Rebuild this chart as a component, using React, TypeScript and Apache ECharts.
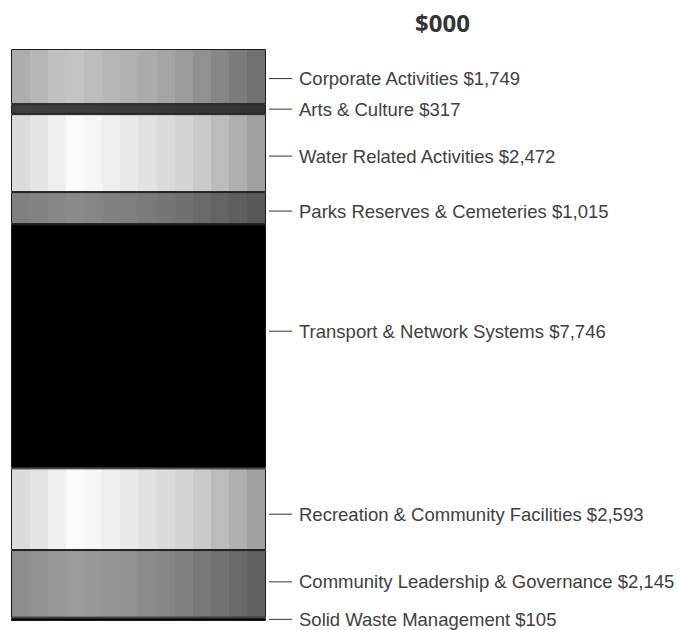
import React, { useEffect, useRef } from "react";
import * as echarts from "echarts";

const categories = [
  "Corporate Activities",
  "Arts & Culture",
  "Water Related Activities",
  "Parks Reserves & Cemeteries",
  "Transport & Network Systems",
  "Recreation & Community Facilities",
  "Community Leadership & Governance",
  "Solid Waste Management",
];
const values = [1749, 317, 2472, 1015, 7746, 2593, 2145, 105];
const titleText = "$000";

// ---- styles (not data) ----
const labelOffsetsY = [2, 0, 3, 3, -15, 5, -2, 0];
// gray anchors: [offset, gray level]
const shadeAnchors: number[][][] = [
  [[0, 0xa8], [0.22, 0xc6], [0.6, 0xa6], [1, 0x6c]],
  [[0, 0x40], [1, 0x34]],
  [[0, 0xd6], [0.26, 0xfb], [0.5, 0xe6], [0.72, 0xd0], [1, 0x9a]],
  [[0, 0x7e], [0.25, 0x8a], [0.6, 0x76], [1, 0x55]],
  [[0, 0x00], [1, 0x00]],
  [[0, 0xd6], [0.26, 0xfb], [0.5, 0xe6], [0.72, 0xd0], [1, 0x9a]],
  [[0, 0x8c], [0.25, 0x9c], [0.6, 0x88], [1, 0x5e]],
  [[0, 0x00], [1, 0x00]],
];

function grayAt(anchors: number[][], t: number): number {
  for (let i = 0; i < anchors.length - 1; i++) {
    const [o0, g0] = anchors[i];
    const [o1, g1] = anchors[i + 1];
    if (t >= o0 && t <= o1) {
      const f = o1 === o0 ? 0 : (t - o0) / (o1 - o0);
      return g0 + (g1 - g0) * f;
    }
  }
  return anchors[anchors.length - 1][1];
}

function steppedGradient(anchors: number[][]) {
  const N = 14;
  const stops: { offset: number; color: string }[] = [];
  for (let i = 0; i < N; i++) {
    const t0 = i / N;
    const t1 = (i + 1) / N;
    const g = Math.round(grayAt(anchors, (t0 + t1) / 2));
    const c = `rgb(${g},${g},${g})`;
    stops.push({ offset: t0, color: c });
    stops.push({ offset: t1, color: c });
  }
  return new echarts.graphic.LinearGradient(0, 0, 1, 0, stops);
}

function fmt(v: number) {
  return "$" + v.toLocaleString("en-US");
}

export default function App() {
  const ref = useRef<HTMLDivElement>(null);
  useEffect(() => {
    if (!ref.current) return;
    const chart = echarts.init(ref.current, undefined, { renderer: "svg" });
    const total = values.reduce((a, b) => a + b, 0);
    const series = categories.map((name, i) => ({
      type: "bar",
      name,
      stack: "total",
      barWidth: "100%",
      data: [values[i]],
      itemStyle: {
        color: steppedGradient(shadeAnchors[i]),
        borderColor: "#1a1a1a",
        borderWidth: 1,
      },
      label: {
        show: true,
        position: "right",
        distance: 3,
        offset: [0, labelOffsetsY[i]],
        formatter: () => `{l| }{t|${name} ${fmt(values[i])}}`,
        rich: {
          l: { width: 23, height: 1, backgroundColor: "#333" },
          t: {
            fontSize: 18.5,
            color: "#404040",
            fontFamily: "'Liberation Sans', Arial, sans-serif",
            padding: [0, 0, 0, 7],
          },
        },
      },
    }));
    chart.setOption({
      animation: false,
      backgroundColor: "#fff",
      title: {
        text: titleText,
        left: 410,
        top: 5,
        textStyle: {
          fontFamily: "'Open Sans', sans-serif",
          fontWeight: "bold",
          fontSize: 24,
          color: "#333",
        },
      },
      grid: { left: 11, right: 414, top: 49, bottom: 9 },
      xAxis: { type: "category", data: ["total"], show: false },
      yAxis: { type: "value", min: 0, max: total, inverse: true, show: false },
      series,
    });
    return () => chart.dispose();
  }, []);
  return (
    <div
      ref={ref}
      style={{ position: "fixed", left: 0, top: 0, width: 680, height: 630 }}
    />
  );
}
